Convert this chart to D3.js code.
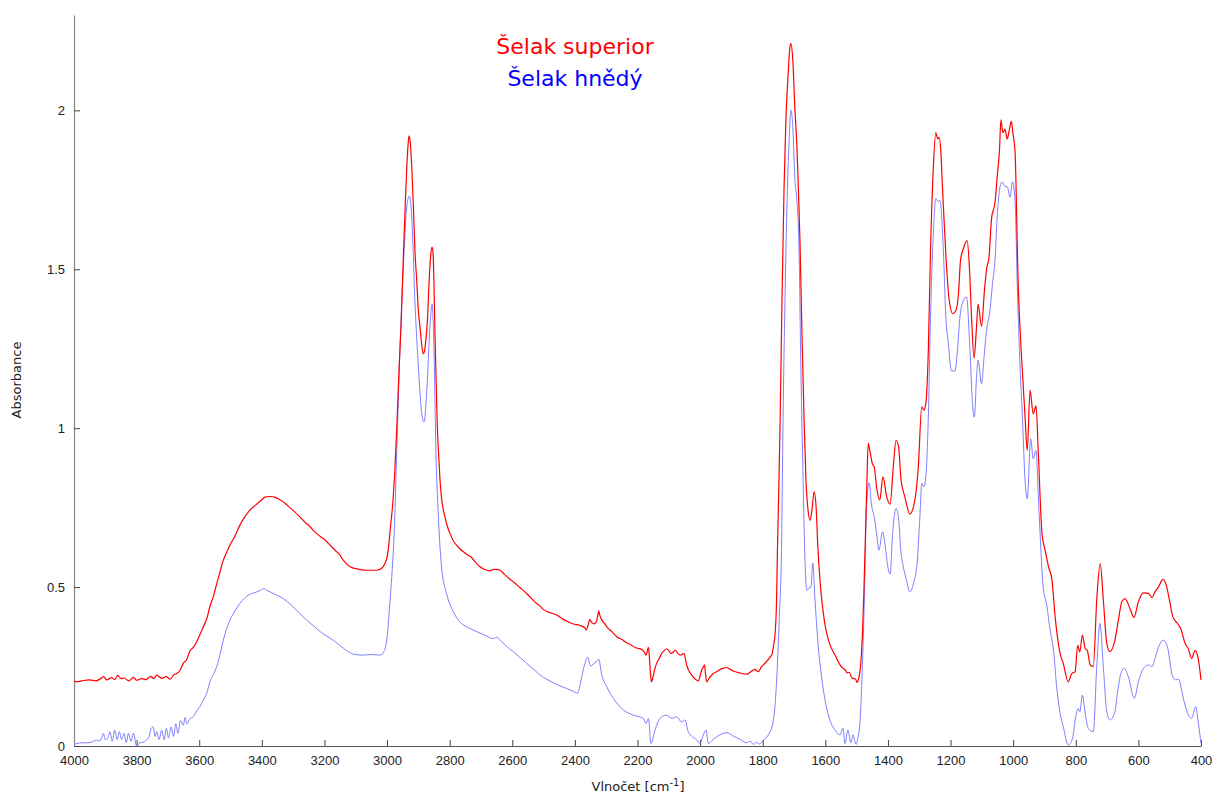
<!DOCTYPE html>
<html>
<head>
<meta charset="utf-8">
<script src="https://cdn.jsdelivr.net/npm/d3@7"></script>
<style>
  body { margin: 0; background: #fff; }
  svg { display: block; }
</style>
</head>
<body>
<script>
// Data (wavenumber cm-1, absorbance)
const seriesNames = ["Šelak superior", "Šelak hnědý"];
const seriesColors = ["#ff0000", "#7070ff"];
const xTicks = [4000, 3800, 3600, 3400, 3200, 3000, 2800, 2600, 2400, 2200, 2000, 1800, 1600, 1400, 1200, 1000, 800, 600, 400];
const yTicks = [0, 0.5, 1, 1.5, 2];

const superiorPoints = [[4000,0.204],[3990,0.202],[3970,0.206],[3950,0.208],[3930,0.205],[3915,0.212],[3905,0.218],[3895,0.208],[3880,0.215],[3870,0.209],[3860,0.222],[3850,0.212],[3840,0.214],[3825,0.205],[3810,0.216],[3800,0.207],[3785,0.212],[3770,0.209],[3755,0.219],[3745,0.212],[3736,0.223],[3720,0.213],[3705,0.218],[3693,0.21],[3680,0.225],[3672,0.228],[3660,0.24],[3651,0.26],[3640,0.272],[3629,0.3],[3619,0.31],[3608,0.328],[3598,0.35],[3587,0.375],[3576,0.4],[3566,0.438],[3555,0.47],[3544,0.511],[3533,0.55],[3523,0.585],[3512,0.61],[3502,0.632],[3486,0.66],[3470,0.695],[3455,0.72],[3438,0.742],[3420,0.758],[3400,0.775],[3390,0.783],[3375,0.785],[3358,0.783],[3342,0.775],[3326,0.764],[3310,0.75],[3294,0.736],[3278,0.72],[3262,0.704],[3246,0.69],[3230,0.673],[3214,0.66],[3198,0.648],[3182,0.632],[3166,0.616],[3150,0.6],[3140,0.585],[3118,0.564],[3100,0.558],[3086,0.555],[3060,0.553],[3033,0.553],[3017,0.559],[3007,0.574],[3001,0.59],[2996,0.62],[2988,0.7],[2982,0.76],[2975,0.87],[2969,1.0],[2961,1.2],[2955,1.33],[2948,1.54],[2942,1.7],[2937,1.82],[2933,1.89],[2930,1.92],[2926,1.9],[2921,1.82],[2916,1.7],[2911,1.56],[2905,1.46],[2900,1.37],[2894,1.31],[2889,1.26],[2884,1.234],[2879,1.25],[2876,1.277],[2871,1.34],[2866,1.455],[2860,1.55],[2856,1.57],[2853,1.55],[2850,1.45],[2847,1.3],[2843,1.14],[2840,1.02],[2836,0.93],[2831,0.84],[2826,0.78],[2815,0.721],[2810,0.7],[2799,0.669],[2788,0.645],[2778,0.632],[2767,0.62],[2756,0.611],[2746,0.603],[2730,0.593],[2719,0.58],[2710,0.57],[2703,0.564],[2690,0.556],[2671,0.551],[2660,0.556],[2649,0.555],[2639,0.553],[2625,0.54],[2610,0.527],[2597,0.517],[2575,0.498],[2554,0.48],[2530,0.455],[2511,0.44],[2501,0.43],[2480,0.42],[2458,0.412],[2440,0.4],[2420,0.39],[2405,0.384],[2385,0.38],[2368,0.372],[2364,0.365],[2355,0.39],[2352,0.398],[2346,0.388],[2339,0.384],[2332,0.39],[2327,0.41],[2324,0.425],[2320,0.41],[2314,0.396],[2305,0.385],[2298,0.375],[2282,0.36],[2266,0.344],[2250,0.335],[2235,0.325],[2220,0.318],[2208,0.31],[2187,0.304],[2178,0.295],[2173,0.286],[2165,0.31],[2162,0.28],[2158,0.22],[2155,0.202],[2150,0.22],[2144,0.245],[2139,0.26],[2128,0.28],[2123,0.291],[2115,0.3],[2107,0.306],[2100,0.3],[2093,0.291],[2086,0.295],[2080,0.302],[2070,0.29],[2064,0.286],[2056,0.289],[2051,0.291],[2046,0.27],[2043,0.255],[2035,0.235],[2027,0.223],[2015,0.21],[2006,0.205],[2000,0.22],[1995,0.239],[1990,0.248],[1986,0.255],[1983,0.23],[1979,0.202],[1970,0.215],[1958,0.228],[1945,0.235],[1937,0.241],[1925,0.245],[1915,0.247],[1905,0.242],[1894,0.236],[1873,0.23],[1851,0.226],[1840,0.232],[1830,0.239],[1825,0.241],[1818,0.236],[1814,0.234],[1805,0.248],[1793,0.26],[1777,0.279],[1770,0.29],[1766,0.312],[1760,0.36],[1756,0.45],[1753,0.616],[1750,0.75],[1745,0.99],[1738,1.43],[1732,1.75],[1726,1.97],[1719,2.11],[1713,2.2],[1710,2.21],[1704,2.16],[1697,2.0],[1691,1.89],[1688,1.81],[1681,1.59],[1675,1.31],[1668,1.03],[1662,0.84],[1655,0.74],[1649,0.71],[1643,0.74],[1636,0.8],[1630,0.76],[1624,0.63],[1617,0.52],[1608,0.43],[1598,0.365],[1585,0.318],[1569,0.286],[1553,0.255],[1545,0.245],[1537,0.24],[1530,0.23],[1524,0.232],[1515,0.214],[1508,0.212],[1502,0.208],[1499,0.2],[1493,0.214],[1486,0.27],[1481,0.365],[1477,0.48],[1473,0.62],[1467,0.84],[1463,0.952],[1458,0.93],[1450,0.889],[1444,0.878],[1435,0.805],[1426,0.774],[1416,0.847],[1404,0.784],[1393,0.761],[1383,0.878],[1374,0.962],[1366,0.941],[1358,0.836],[1346,0.784],[1330,0.73],[1314,0.774],[1303,0.878],[1292,1.067],[1285,1.057],[1279,1.078],[1271,1.245],[1264,1.56],[1255,1.82],[1247,1.93],[1241,1.91],[1236,1.915],[1231,1.87],[1226,1.76],[1221,1.66],[1213,1.51],[1204,1.4],[1193,1.36],[1183,1.37],[1175,1.42],[1168,1.53],[1159,1.565],[1147,1.59],[1140,1.51],[1133,1.35],[1125,1.22],[1117,1.32],[1112,1.39],[1101,1.32],[1092,1.43],[1085,1.5],[1077,1.54],[1069,1.66],[1058,1.71],[1051,1.79],[1044,1.87],[1039,1.97],[1033,1.93],[1026,1.94],[1019,1.91],[1012,1.94],[1006,1.965],[1001,1.93],[994,1.87],[984,1.455],[973,1.22],[962,1.035],[955,0.93],[946,1.12],[936,1.045],[927,1.07],[920,0.93],[908,0.669],[898,0.616],[887,0.564],[876,0.522],[866,0.407],[850,0.291],[840,0.26],[824,0.202],[813,0.228],[802,0.234],[794,0.317],[787,0.296],[779,0.349],[770,0.307],[763,0.3],[754,0.255],[744,0.25],[733,0.46],[722,0.574],[712,0.46],[701,0.323],[691,0.297],[675,0.333],[664,0.396],[653,0.454],[643,0.464],[627,0.433],[614,0.404],[600,0.454],[584,0.482],[568,0.48],[556,0.467],[547,0.485],[536,0.5],[522,0.524],[511,0.506],[501,0.46],[490,0.407],[474,0.384],[463,0.365],[451,0.323],[441,0.307],[430,0.276],[419,0.3],[409,0.276],[400,0.208]];

const hnedyPoints = [[4000,0.005],[3990,0.008],[3975,0.01],[3959,0.01],[3945,0.012],[3927,0.019],[3918,0.015],[3910,0.03],[3906,0.04],[3900,0.02],[3892,0.025],[3885,0.045],[3878,0.015],[3870,0.05],[3862,0.02],[3855,0.045],[3848,0.02],[3840,0.04],[3833,0.01],[3826,0.04],[3818,0.015],[3810,0.04],[3800,0.0],[3790,0.01],[3780,0.012],[3768,0.019],[3760,0.03],[3754,0.055],[3747,0.06],[3741,0.03],[3736,0.045],[3728,0.02],[3720,0.05],[3712,0.02],[3705,0.055],[3698,0.025],[3690,0.06],[3682,0.03],[3675,0.07],[3668,0.04],[3660,0.08],[3651,0.065],[3645,0.09],[3640,0.07],[3630,0.085],[3619,0.092],[3608,0.11],[3598,0.124],[3587,0.145],[3576,0.166],[3566,0.202],[3555,0.225],[3544,0.25],[3533,0.29],[3523,0.333],[3512,0.37],[3502,0.396],[3486,0.425],[3470,0.449],[3455,0.465],[3443,0.475],[3430,0.48],[3416,0.485],[3405,0.49],[3393,0.495],[3385,0.49],[3374,0.485],[3360,0.478],[3342,0.47],[3320,0.455],[3300,0.438],[3280,0.418],[3257,0.396],[3235,0.378],[3214,0.36],[3195,0.347],[3172,0.333],[3150,0.316],[3129,0.3],[3108,0.289],[3076,0.286],[3050,0.288],[3028,0.286],[3017,0.288],[3010,0.298],[3004,0.315],[2999,0.35],[2994,0.41],[2988,0.49],[2982,0.58],[2976,0.7],[2969,0.93],[2959,1.245],[2948,1.507],[2937,1.696],[2929,1.73],[2921,1.664],[2911,1.4],[2900,1.193],[2889,1.045],[2882,1.02],[2873,1.12],[2863,1.32],[2856,1.39],[2850,1.245],[2844,0.93],[2836,0.721],[2826,0.564],[2810,0.48],[2788,0.422],[2767,0.39],[2746,0.375],[2725,0.365],[2703,0.355],[2680,0.345],[2671,0.34],[2660,0.338],[2649,0.343],[2639,0.333],[2623,0.318],[2597,0.297],[2575,0.278],[2554,0.26],[2530,0.24],[2511,0.223],[2490,0.21],[2469,0.199],[2450,0.19],[2426,0.181],[2405,0.172],[2392,0.166],[2378,0.218],[2368,0.26],[2359,0.279],[2352,0.255],[2349,0.252],[2339,0.26],[2332,0.265],[2324,0.273],[2314,0.223],[2298,0.186],[2277,0.15],[2245,0.113],[2213,0.097],[2181,0.087],[2173,0.071],[2165,0.087],[2157,0.008],[2144,0.05],[2128,0.087],[2107,0.097],[2091,0.087],[2075,0.092],[2059,0.076],[2048,0.082],[2038,0.045],[2011,0.019],[2000,0.008],[1990,0.035],[1981,0.05],[1974,0.008],[1958,0.021],[1937,0.035],[1915,0.042],[1894,0.031],[1873,0.021],[1851,0.01],[1840,0.015],[1830,0.005],[1820,0.012],[1810,0.006],[1798,0.019],[1782,0.035],[1768,0.071],[1761,0.124],[1756,0.197],[1747,0.407],[1740,0.616],[1735,1.03],[1729,1.4],[1722,1.72],[1716,1.9],[1710,2.0],[1704,1.95],[1697,1.78],[1691,1.72],[1684,1.56],[1678,1.18],[1671,0.84],[1665,0.585],[1659,0.49],[1652,0.497],[1646,0.5],[1640,0.575],[1633,0.46],[1624,0.33],[1611,0.21],[1598,0.13],[1585,0.08],[1569,0.05],[1553,0.035],[1544,0.057],[1537,0.008],[1528,0.05],[1518,0.01],[1512,0.035],[1502,0.005],[1496,0.025],[1489,0.08],[1483,0.21],[1477,0.4],[1468,0.763],[1460,0.828],[1453,0.763],[1442,0.711],[1435,0.658],[1429,0.616],[1417,0.674],[1409,0.632],[1402,0.574],[1393,0.541],[1385,0.669],[1374,0.747],[1366,0.716],[1359,0.616],[1351,0.564],[1342,0.527],[1330,0.485],[1317,0.517],[1306,0.585],[1298,0.721],[1292,0.826],[1285,0.815],[1279,0.847],[1271,1.035],[1264,1.35],[1255,1.61],[1247,1.722],[1239,1.712],[1234,1.717],[1223,1.56],[1215,1.35],[1207,1.266],[1197,1.18],[1186,1.18],[1178,1.245],[1170,1.35],[1161,1.397],[1149,1.413],[1138,1.245],[1130,1.078],[1124,1.035],[1117,1.16],[1112,1.214],[1101,1.14],[1093,1.224],[1085,1.308],[1074,1.371],[1066,1.455],[1058,1.528],[1051,1.664],[1042,1.759],[1035,1.775],[1026,1.76],[1019,1.76],[1010,1.727],[1002,1.775],[994,1.717],[987,1.455],[978,1.193],[970,1.025],[962,0.836],[955,0.778],[944,0.967],[936,0.904],[927,0.93],[920,0.794],[914,0.669],[905,0.511],[892,0.438],[882,0.365],[871,0.3],[861,0.186],[850,0.103],[840,0.061],[824,0.003],[810,0.024],[802,0.082],[792,0.118],[787,0.108],[779,0.16],[770,0.103],[760,0.055],[744,0.045],[733,0.25],[723,0.386],[712,0.25],[701,0.108],[691,0.082],[675,0.108],[667,0.166],[656,0.228],[646,0.244],[632,0.218],[613,0.15],[600,0.202],[584,0.244],[568,0.255],[556,0.25],[544,0.286],[533,0.318],[520,0.333],[506,0.307],[492,0.223],[481,0.208],[471,0.21],[460,0.166],[448,0.118],[430,0.087],[417,0.124],[409,0.076],[400,0.008]];

// Dimensions
const w = 1217;
const h = 793;
const padLeft = 74, padRight = 1201, padTop = 15, padBottom = 746;

const svg = d3.select("body")
    .append("svg")
    .attr("width", w)
    .attr("height", h)
    .style("font-family", "DejaVu Sans");

const xScale = d3.scaleLinear().domain([4000, 400]).range([padLeft, padRight]);
const yScale = d3.scaleLinear().domain([0, 2.3]).range([padBottom, padTop]);

// Axes
const xAxis = svg.append("g")
    .attr("transform", `translate(0, ${padBottom})`)
    .call(d3.axisBottom(xScale)
        .tickValues(xTicks)
        .tickFormat(d3.format("d"))
        .tickSizeInner(-6)
        .tickSizeOuter(0)
        .tickPadding(10));
xAxis.select(".domain").attr("stroke", "#555").attr("stroke-width", 1.2);
xAxis.selectAll(".tick line").attr("stroke", "#444");
xAxis.selectAll(".tick text").attr("fill", "#222").style("font-size", "13px");

const yAxis = svg.append("g")
    .attr("transform", `translate(${padLeft}, 0)`)
    .call(d3.axisLeft(yScale)
        .tickValues(yTicks)
        .tickFormat(d => String(d))
        .tickSizeInner(-6)
        .tickSizeOuter(0)
        .tickPadding(9));
yAxis.select(".domain").attr("stroke", "#888").attr("stroke-width", 1.2);
yAxis.selectAll(".tick line").attr("stroke", "#444");
yAxis.selectAll(".tick text").attr("fill", "#222").style("font-size", "13px");

// Lines
const line = d3.line()
    .x(d => xScale(d[0]))
    .y(d => yScale(d[1]))
    .curve(d3.curveMonotoneX);

svg.append("path")
    .datum(hnedyPoints)
    .attr("fill", "none")
    .attr("stroke", seriesColors[1])
    .attr("stroke-width", 0.9)
    .attr("d", line);

svg.append("path")
    .datum(superiorPoints)
    .attr("fill", "none")
    .attr("stroke", seriesColors[0])
    .attr("stroke-width", 1.2)
    .attr("d", line);

// Legend
svg.selectAll(".legend")
    .data(seriesNames)
    .enter()
    .append("text")
    .attr("class", "legend")
    .attr("x", 575)
    .attr("y", (d, i) => 54 + i * 32)
    .attr("text-anchor", "middle")
    .style("font-size", "22px")
    .attr("fill", (d, i) => i === 0 ? "#ff0000" : "#0000ff")
    .text(d => d);

// Axis titles
svg.append("text")
    .attr("transform", "translate(21, 380) rotate(-90)")
    .attr("text-anchor", "middle")
    .style("font-size", "13px")
    .attr("fill", "#222")
    .text("Absorbance");

const xt = svg.append("text")
    .attr("x", 638)
    .attr("y", 791)
    .attr("text-anchor", "middle")
    .style("font-size", "13px")
    .attr("fill", "#222");
xt.append("tspan").text("Vlnočet [cm");
xt.append("tspan").attr("dy", -5).style("font-size", "10px").text("-1");
xt.append("tspan").attr("dy", 5).text("]");
</script>
</body>
</html>
